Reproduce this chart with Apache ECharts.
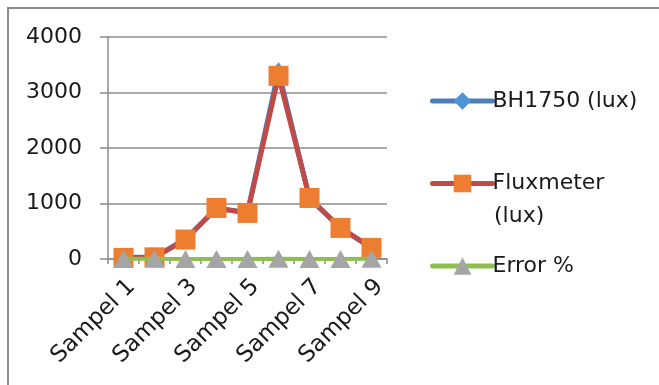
<!DOCTYPE html>
<html><head><meta charset="utf-8">
<script src="https://cdn.jsdelivr.net/npm/echarts@6/dist/echarts.min.js"></script>
<style>html,body{margin:0;padding:0;background:#fff}#c{width:659px;height:385px}</style>
</head><body><div id="c"></div>
<script>
var categories = ['Sampel 1','Sampel 2','Sampel 3','Sampel 4','Sampel 5','Sampel 6','Sampel 7','Sampel 8','Sampel 9'];
var bh1750 = [25, 35, 360, 910, 840, 3390, 1090, 560, 200];
var fluxmeter = [20, 30, 350, 920, 830, 3300, 1100, 560, 200];
var errorPct = [5, 3, 2, 1, 2, 3, 1, 2, 4];
var yTicks = [0, 1000, 2000, 3000, 4000];

var font = '"DejaVu Sans", sans-serif';
var txt = '#1a1a1a';
var chart = echarts.init(document.getElementById('c'), null, {renderer:'canvas'});
chart.setOption({
  animation: false,
  backgroundColor: '#fff',
  graphic: [
    {type:'line', shape:{x1:7, y1:8, x2:700, y2:8}, style:{stroke:'#8c8c8c', lineWidth:2}, z:-1},
    {type:'line', shape:{x1:8, y1:7, x2:8, y2:400}, style:{stroke:'#8c8c8c', lineWidth:2}, z:-1},
    {type:'text', left:5, top:-14, style:{text:'disimulasikan.', font:'16px "Liberation Serif", serif', fill:'#222'}},
    {type:'text', left:494, top:205, style:{text:'(lux)', font:'22px ' + font, fill:txt}}
  ],
  grid: {left:108, right:272, top:37, bottom:126, containLabel:false},
  xAxis: {
    type:'category', data:categories, boundaryGap:true,
    axisLine:{lineStyle:{color:'#8c8c8c', width:1.5}},
    axisTick:{show:true, length:5, interval:0, lineStyle:{color:'#8c8c8c', width:1.5}},
    axisLabel:{interval:1, rotate:45, fontFamily:font, fontSize:23, color:txt, margin:16, verticalAlign:'top'}
  },
  yAxis: {
    type:'value', min:0, max:4000, interval:1000,
    axisLine:{show:true, lineStyle:{color:'#8c8c8c', width:1.5}},
    axisTick:{show:true, length:8, lineStyle:{color:'#8c8c8c', width:1.5}},
    splitLine:{lineStyle:{color:'#8c8c8c', width:1.5}},
    axisLabel:{fontFamily:font, fontSize:22, color:txt, margin:26,
      formatter:function(v){return yTicks.indexOf(v)>=0 ? String(v) : '';}}
  },
  legend: {
    data:['BH1750 (lux)','Fluxmeter (lux)','Error %'], orient:'vertical', left:430, top:90,
    itemWidth:60, itemHeight:22, itemGap:60.5, padding:0,
    lineStyle:{width:5, cap:'round'},
    formatter:function(n){return n==='Fluxmeter (lux)' ? 'Fluxmeter' : n;},
    textStyle:{fontFamily:font, fontSize:22, color:txt, padding:[0,0,0,-5]}
  },
  series: [
    {name:'BH1750 (lux)', type:'line', data:bh1750, symbol:'diamond', symbolSize:[13,17],
     lineStyle:{color:'#4a7ebb', width:5}, itemStyle:{color:'#4f93d6'}, z:2},
    {name:'Fluxmeter (lux)', type:'line', data:fluxmeter, symbol:'rect', symbolSize:20,
     lineStyle:{color:'#be4b48', width:5}, itemStyle:{color:'#ed7d31'}, z:3},
    {name:'Error %', type:'line', data:errorPct, symbol:'triangle', symbolSize:[20,18],
     lineStyle:{color:'#8cbf50', width:4}, itemStyle:{color:'#a5a5a5'}, z:4}
  ]
});
</script></body></html>
